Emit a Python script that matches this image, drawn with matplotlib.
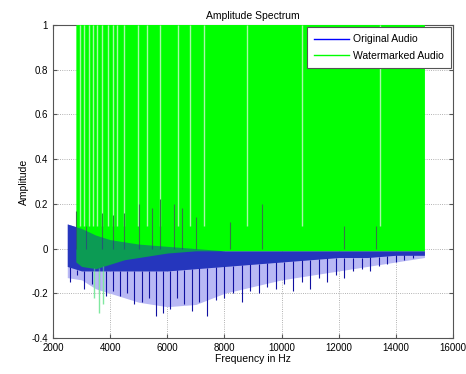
import numpy as np
import matplotlib
matplotlib.use('Agg')
import matplotlib.pyplot as plt

# ---- data ----
# dense blue band (original audio)
band_freq = [2500, 3000, 3500, 4000, 5000, 6000, 7000, 8000, 9000, 10000, 11000, 12000, 13000, 14000, 15000]
band_high = [0.11, 0.09, 0.06, 0.04, 0.02, 0.01, 0.0, -0.01, -0.01, -0.01, -0.01, -0.01, -0.01, -0.01, -0.01]
band_low = [-0.08, -0.1, -0.1, -0.1, -0.1, -0.1, -0.09, -0.08, -0.07, -0.06, -0.05, -0.04, -0.04, -0.03, -0.03]
env_low = [-0.13, -0.14, -0.18, -0.2, -0.24, -0.26, -0.25, -0.2, -0.17, -0.14, -0.12, -0.1, -0.08, -0.06, -0.04]

# downward spikes of the original audio
spike_freq = [2600, 2850, 3100, 3350, 3600, 3850, 4100, 4350, 4600, 4850, 5100, 5350, 5600, 5850,
              6100, 6350, 6600, 6850, 7100, 7400, 7700, 8000, 8300, 8600, 8900, 9200, 9500, 9800,
              10100, 10400, 10700, 11000, 11300, 11600, 11900, 12200, 12500, 12800, 13100, 13400,
              13700, 14000, 14300, 14600, 14900]
spike_min = [-0.15, -0.12, -0.18, -0.16, -0.2, -0.21, -0.19, -0.21, -0.2, -0.25, -0.24, -0.22, -0.3, -0.29,
             -0.27, -0.22, -0.25, -0.28, -0.24, -0.3, -0.23, -0.22, -0.2, -0.24, -0.19, -0.2, -0.17, -0.18,
             -0.16, -0.19, -0.15, -0.18, -0.13, -0.15, -0.12, -0.13, -0.1, -0.09, -0.1, -0.08,
             -0.07, -0.06, -0.05, -0.04, -0.03]

# watermarked audio: lower edge of the green block (top is clipped at 1)
green_freq = [2800, 3000, 3500, 4000, 4500, 5000, 5500, 6000, 7000, 8000, 10000, 12000, 14000, 15000]
green_low = [-0.06, -0.08, -0.09, -0.07, -0.05, -0.04, -0.03, -0.02, -0.01, -0.01, -0.01, -0.01, -0.01, -0.01]
green_spike_freq = [3450, 3600, 3750]
green_spike_min = [-0.22, -0.29, -0.25]
# thin light gaps in the green block
gap_freq = [2950, 3085, 3260, 3400, 3540, 3700, 3925, 4100, 4240, 4500, 4975, 5290, 5745,
            6375, 6795, 7285, 8790, 10715, 13445]
# dark lines poking up into the green block
dark_freq = [2800, 3150, 3700, 4100, 4500, 5000, 5450, 5750, 6250, 6500, 7000, 8200, 9300, 12200, 13300]
dark_top = [0.17, 0.1, 0.16, 0.15, 0.16, 0.2, 0.18, 0.22, 0.2, 0.18, 0.14, 0.12, 0.2, 0.1, 0.1]

xticks = [2000, 4000, 6000, 8000, 10000, 12000, 14000, 16000]
yticks = [-0.4, -0.2, 0, 0.2, 0.4, 0.6, 0.8, 1]
yticklabels = ['-0.4', '-0.2', '0', '0.2', '0.4', '0.6', '0.8', '1']

plt.rcParams['font.family'] = ['Liberation Sans', 'DejaVu Sans']

fig = plt.figure(figsize=(4.66, 3.74), dpi=100)
ax = fig.add_axes([53/466, 36/374, 400/466, 313/374])

# original audio (blue)
ax.fill_between(band_freq, env_low, band_low, color='#b8b8f4', lw=0, zorder=2)
ax.fill_between(band_freq, band_low, band_high, color='#3434d4', lw=0, zorder=2)
ax.vlines(spike_freq, np.interp(spike_freq, band_freq, band_low), spike_min,
          color='#1010a0', lw=0.8, zorder=3)
line_orig, = ax.plot([], [], color='#0000ff', lw=1, label='Original Audio')

# watermarked audio (green)
ax.fill_between(green_freq, green_low, 1.05, color='#00ff00', lw=0, zorder=4)
ax.vlines(gap_freq, 0.1, 1.0, color='#a8f8a8', lw=1.0, zorder=5)
ax.vlines(green_spike_freq, np.interp(green_spike_freq, green_freq, green_low), green_spike_min,
          color='#80e8a0', lw=1.0, zorder=4)
ax.vlines(dark_freq, 0.0, dark_top, color='#357a45', lw=0.8, zorder=5)
# blue band showing through the green
ax.fill_between(band_freq, band_low, band_high, color='#1838a8', alpha=0.5, lw=0, zorder=6)
line_wm, = ax.plot([], [], color='#00ff00', lw=1, label='Watermarked Audio')

ax.set_xlim(2000, 16000)
ax.set_ylim(-0.4, 1)
ax.set_xticks(xticks)
ax.set_xticklabels([str(t) for t in xticks])
ax.set_yticks(yticks)
ax.set_yticklabels(yticklabels)
ax.tick_params(direction='in', top=True, right=True, labelsize=7, length=3, color='#555555')
ax.grid(True, linestyle=':', color='#999999', lw=0.6)
ax.set_axisbelow(True)
for s in ax.spines.values():
    s.set_color('#555555')
    s.set_linewidth(0.8)

ax.set_title('Amplitude Spectrum', fontsize=7.5, pad=4)
ax.set_xlabel('Frequency in Hz', fontsize=7.5, labelpad=1)
ax.set_ylabel('Amplitude', fontsize=7.5, labelpad=2)

leg = ax.legend(handles=[line_orig, line_wm], loc='upper right', fontsize=7.5,
                fancybox=False, framealpha=1, edgecolor='#555555',
                borderaxespad=0.2, borderpad=0.7, labelspacing=0.6,
                handlelength=3.3, handletextpad=0.4)
leg.set_zorder(10)
leg.get_frame().set_linewidth(0.8)

fig.savefig('out.png', dpi=100)
